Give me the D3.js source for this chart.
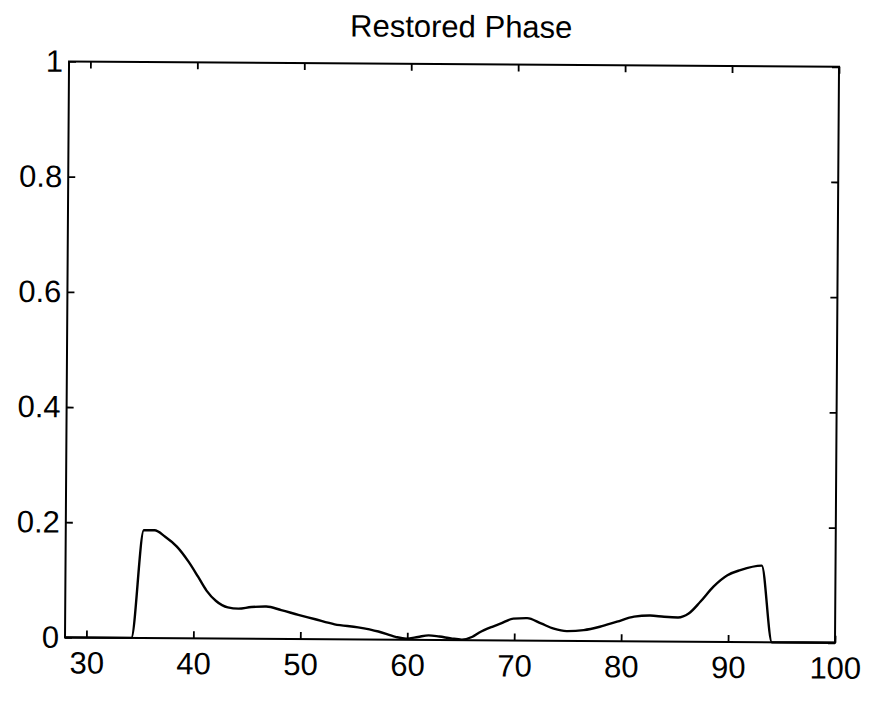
<!DOCTYPE html>
<html>
<head>
<meta charset="utf-8">
<script src="https://cdn.jsdelivr.net/npm/d3@7"></script>
<style>
  html, body { margin: 0; padding: 0; background: #fff; }
  svg text { font-family: "Liberation Sans", Arial, Helvetica, sans-serif; fill: #000; }
</style>
</head>
<body>
<svg id="chart" width="875" height="708"></svg>
<script>
const titleText = "Restored Phase";
const xTicks = [30, 40, 50, 60, 70, 80, 90, 100];
const yTicks = [0, 0.2, 0.4, 0.6, 0.8, 1];
const xDomain = [28, 100];
const yDomain = [0, 1];

const xValues = [28, 34.2, 35.3, 36.3, 37.3, 38.4, 39.5, 40.4, 41.2, 42.1, 43.2, 44.2, 45.4, 46.8, 48.2, 49.8, 51.3, 53.2, 55.4, 57.3, 58.9, 59.9, 61, 62, 63, 64.1, 65.1, 66.1, 66.7, 68.0, 68.7, 69.9, 71.2, 72.5, 73.7, 74.9, 76.5, 78.0, 79.6, 81.2, 82.7, 84.0, 85.3, 86.3, 87.4, 88.6, 89.9, 91.1, 93.1, 94.1, 100];
const yValues = [0, 0, 0.187, 0.187, 0.176, 0.159, 0.133, 0.107, 0.083, 0.065, 0.054, 0.052, 0.055, 0.056, 0.050, 0.042, 0.035, 0.026, 0.021, 0.014, 0.005, 0.002, 0.005, 0.008, 0.006, 0.003, 0.001, 0.006, 0.013, 0.024, 0.029, 0.038, 0.039, 0.030, 0.021, 0.017, 0.019, 0.025, 0.034, 0.043, 0.045, 0.043, 0.042, 0.049, 0.070, 0.096, 0.116, 0.125, 0.133, 0, 0];

const margin = { left: 67, right: 38, top: 64, bottom: 68 };
const W = 875, H = 708;
const pw = W - margin.left - margin.right;
const ph = H - margin.top - margin.bottom;

const svg = d3.select("#chart");
const root = svg.append("g")
  .attr("transform", `rotate(0.4, ${W/2}, ${H/2}) translate(${margin.left},${margin.top})`);

const x = d3.scaleLinear().domain(xDomain).range([0, pw]);
const y = d3.scaleLinear().domain(yDomain).range([ph, 0]);

const tickLen = 7;

// Box
root.append("rect")
  .attr("x", 0).attr("y", 0).attr("width", pw).attr("height", ph)
  .attr("fill", "none").attr("stroke", "#000").attr("stroke-width", 2);

// Axes (ticks point inward on all four sides)
const xAxisB = root.append("g").attr("transform", `translate(0,${ph})`)
  .call(d3.axisBottom(x).tickValues(xTicks).tickSize(-tickLen).tickPadding(14).tickFormat(d3.format("d")));
const xAxisT = root.append("g")
  .call(d3.axisTop(x).tickValues(xTicks).tickSize(-tickLen).tickFormat(""));
const yAxisL = root.append("g")
  .call(d3.axisLeft(y).tickValues(yTicks).tickSize(-tickLen).tickPadding(6).tickFormat(d => d === 0 ? "0" : d === 1 ? "1" : d3.format(".1f")(d)));
const yAxisR = root.append("g").attr("transform", `translate(${pw},0)`)
  .call(d3.axisRight(y).tickValues(yTicks).tickSize(-tickLen).tickFormat(""));

[xAxisB, xAxisT, yAxisL, yAxisR].forEach(a => {
  a.select(".domain").remove();
  a.selectAll(".tick line").attr("stroke", "#000").attr("stroke-width", 1.8);
  a.selectAll("text").style("font-size", "31px").attr("fill", "#000");
});
xAxisB.selectAll("text").attr("dy", "0.71em");

// Curve
const line = d3.line()
  .x((d, i) => x(xValues[i]))
  .y((d, i) => y(yValues[i]))
  .curve(d3.curveMonotoneX);

root.append("path")
  .datum(yValues)
  .attr("d", line)
  .attr("fill", "none")
  .attr("stroke", "#000")
  .attr("stroke-width", 2.4)
  .attr("stroke-linejoin", "round");

// Title
root.append("text")
  .attr("x", pw / 2 + 7)
  .attr("y", -27)
  .attr("text-anchor", "middle")
  .style("font-size", "31px")
  .text(titleText);
</script>
</body>
</html>
